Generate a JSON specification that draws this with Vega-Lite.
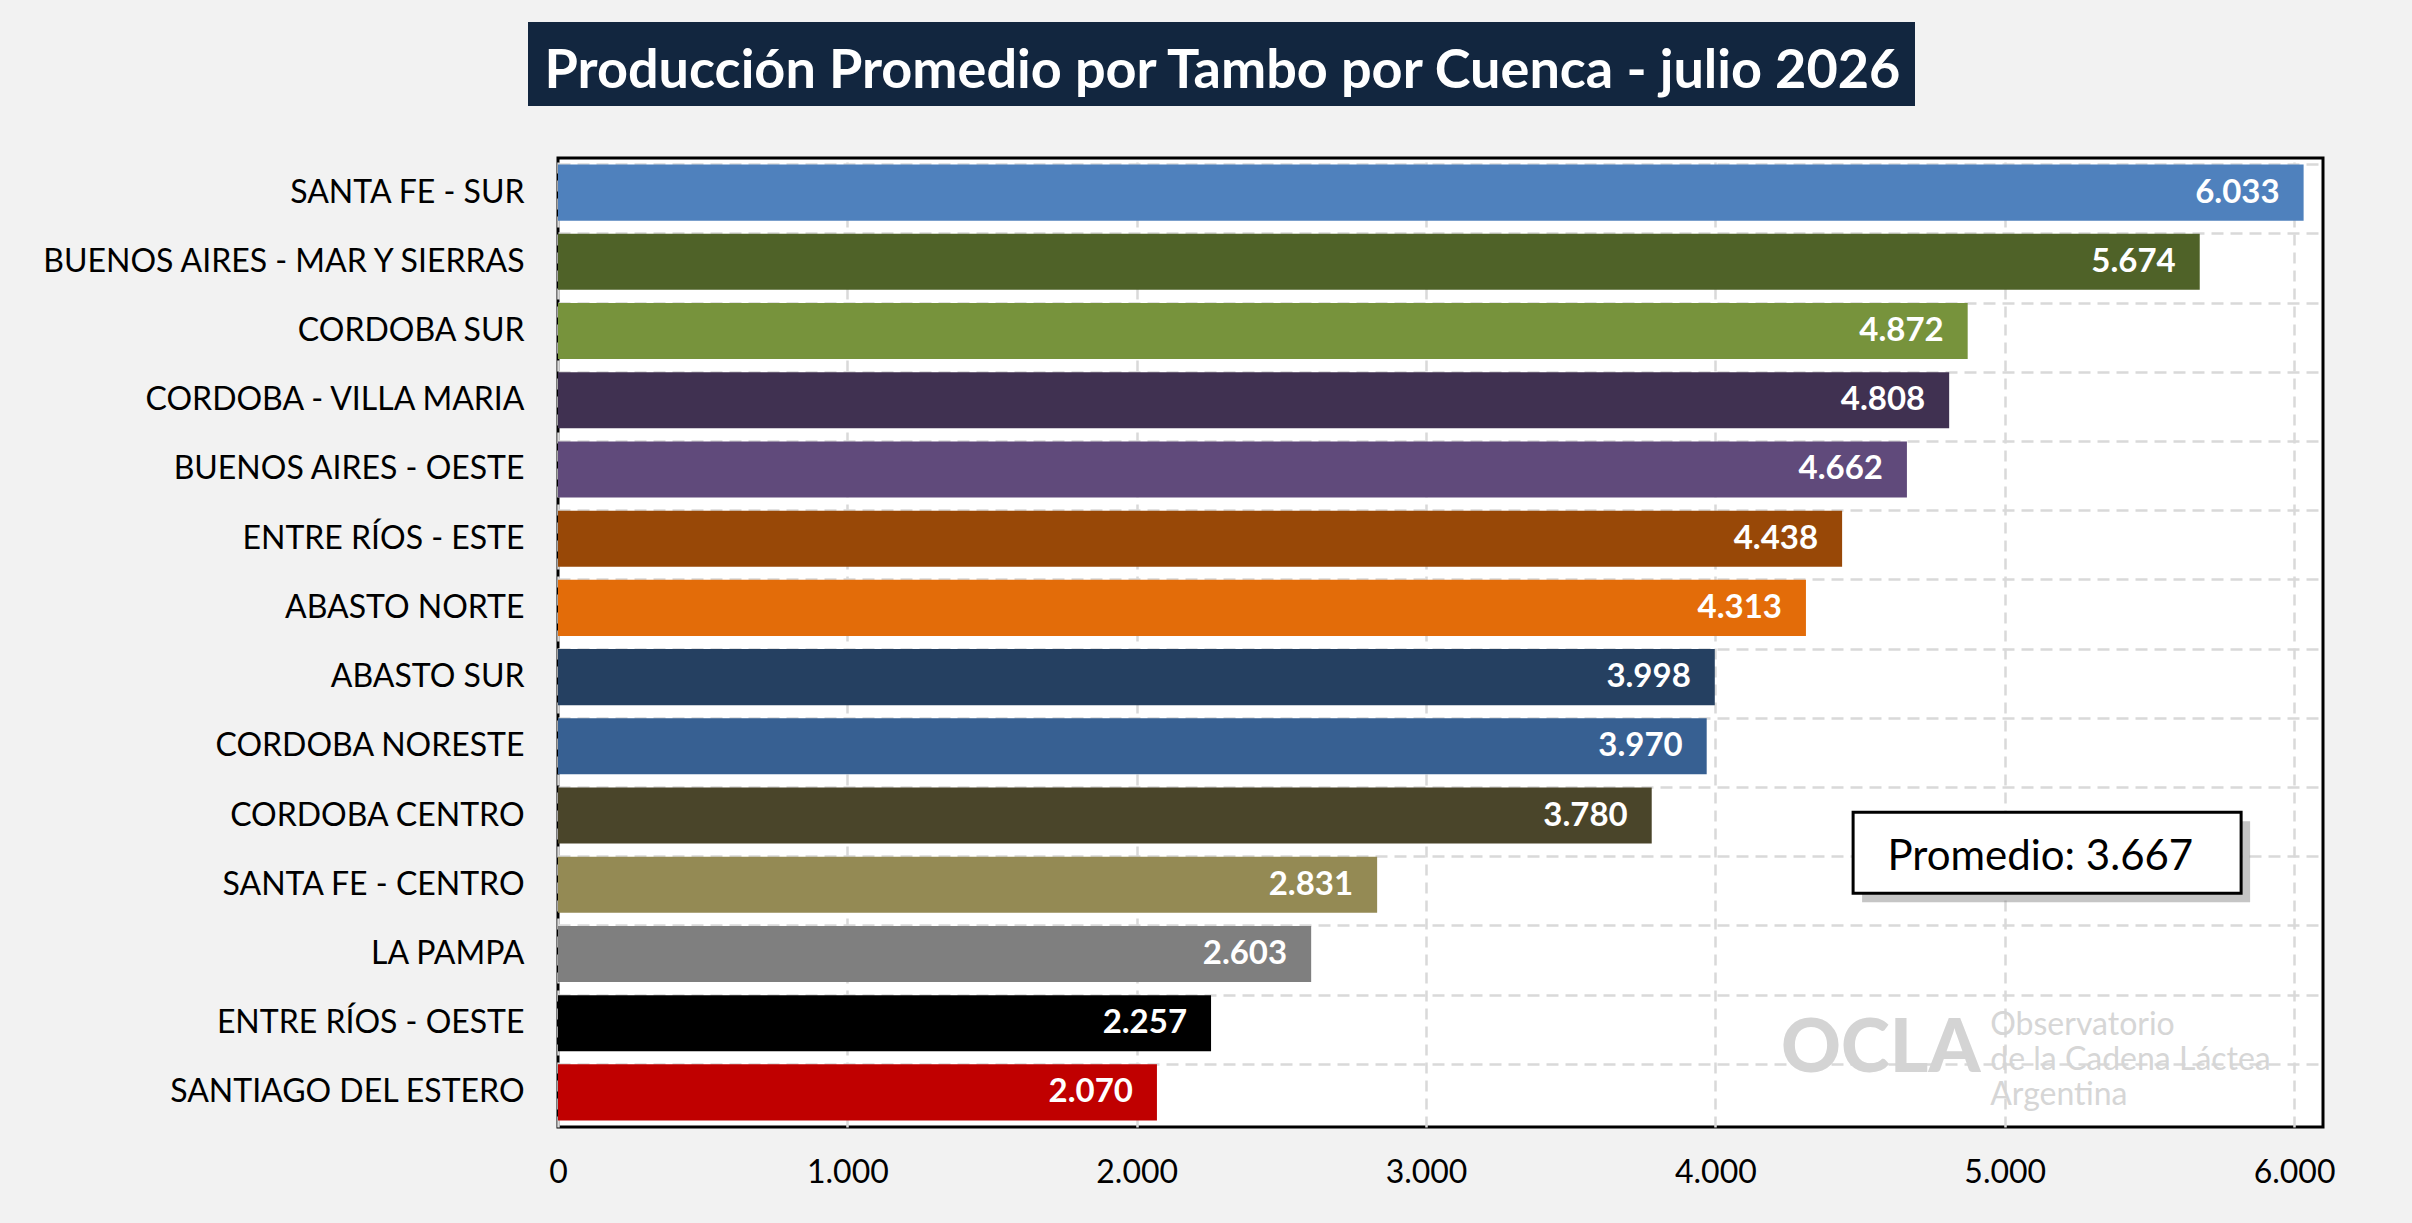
{
  "$schema": "https://vega.github.io/schema/vega-lite/v6.json",
  "background": "#f2f2f2",
  "padding": {"left": 37, "top": 22, "right": 80, "bottom": 40},
  "spacing": 50,
  "config": {
    "font": "Lato",
    "locale": {
      "number": {"decimal": ",", "thousands": ".", "grouping": [3], "currency": ["$", ""]}
    }
  },
  "resolve": {"scale": {"x": "independent", "y": "independent"}},
  "vconcat": [
    {
      "width": 1387,
      "height": 84,
      "view": {"fill": null, "stroke": null},
      "data": {"values": [{"titulo": "Producción Promedio por Tambo por Cuenca - julio 2026", "desde": 0, "hasta": 1}]},
      "layer": [
        {
          "mark": {"type": "rect", "fill": "#12263f", "xOffset": -30, "x2Offset": -30},
          "encoding": {
            "x": {"field": "desde", "type": "quantitative", "scale": {"domain": [0, 1]}, "axis": null},
            "x2": {"field": "hasta"}
          }
        },
        {
          "mark": {
            "type": "text",
            "font": "Lato",
            "fontWeight": "bold",
            "fontSize": 54,
            "color": "white",
            "baseline": "alphabetic",
            "dx": -29,
            "dy": 24
          },
          "encoding": {
            "text": {"field": "titulo", "type": "nominal"}
          }
        }
      ]
    },
    {
      "width": 1765,
      "height": 969,
      "view": {"fill": "white", "stroke": "black", "strokeWidth": 3},
      "data": {
        "values": [
          {"cuenca": "SANTA FE - SUR", "litros": 6033},
          {"cuenca": "BUENOS AIRES - MAR Y SIERRAS", "litros": 5674},
          {"cuenca": "CORDOBA SUR", "litros": 4872},
          {"cuenca": "CORDOBA - VILLA MARIA", "litros": 4808},
          {"cuenca": "BUENOS AIRES - OESTE", "litros": 4662},
          {"cuenca": "ENTRE RÍOS - ESTE", "litros": 4438},
          {"cuenca": "ABASTO NORTE", "litros": 4313},
          {"cuenca": "ABASTO SUR", "litros": 3998},
          {"cuenca": "CORDOBA NORESTE", "litros": 3970},
          {"cuenca": "CORDOBA CENTRO", "litros": 3780},
          {"cuenca": "SANTA FE - CENTRO", "litros": 2831},
          {"cuenca": "LA PAMPA", "litros": 2603},
          {"cuenca": "ENTRE RÍOS - OESTE", "litros": 2257},
          {"cuenca": "SANTIAGO DEL ESTERO", "litros": 2070}
        ]
      },
      "layer": [
        {
          "mark": {"type": "bar"},
          "encoding": {
            "y": {
              "field": "cuenca",
              "type": "nominal",
              "sort": null,
              "scale": {
                "domain": [
                  "SANTA FE - SUR", "BUENOS AIRES - MAR Y SIERRAS", "CORDOBA SUR",
                  "CORDOBA - VILLA MARIA", "BUENOS AIRES - OESTE", "ENTRE RÍOS - ESTE",
                  "ABASTO NORTE", "ABASTO SUR", "CORDOBA NORESTE", "CORDOBA CENTRO",
                  "SANTA FE - CENTRO", "LA PAMPA", "ENTRE RÍOS - OESTE", "SANTIAGO DEL ESTERO"
                ],
                "paddingInner": 0.19,
                "paddingOuter": 0.095
              },
              "axis": {
                "title": null,
                "labelFont": "Lato",
                "labelFontSize": 32,
                "labelLimit": 0,
                "labelColor": "black",
                "labelPadding": 34,
                "ticks": false,
                "domain": false,
                "grid": true,
                "bandPosition": 0,
                "gridColor": "#d9d9d9",
                "gridWidth": 2.5,
                "gridDash": [12, 7]
              }
            },
            "x": {
              "field": "litros",
              "type": "quantitative",
              "scale": {"domain": [0, 6100], "nice": false},
              "axis": {
                "title": null,
                "values": [0, 1000, 2000, 3000, 4000, 5000, 6000],
                "format": ",d",
                "labelFont": "Lato",
                "labelFontSize": 32,
                "labelColor": "black",
                "labelPadding": 30,
                "labelFlush": false,
                "ticks": false,
                "domain": false,
                "gridColor": "#d9d9d9",
                "gridWidth": 2.5,
                "gridDash": [11, 7]
              }
            },
            "color": {
              "field": "cuenca",
              "type": "nominal",
              "legend": null,
              "scale": {
                "domain": [
                  "SANTA FE - SUR", "BUENOS AIRES - MAR Y SIERRAS", "CORDOBA SUR",
                  "CORDOBA - VILLA MARIA", "BUENOS AIRES - OESTE", "ENTRE RÍOS - ESTE",
                  "ABASTO NORTE", "ABASTO SUR", "CORDOBA NORESTE", "CORDOBA CENTRO",
                  "SANTA FE - CENTRO", "LA PAMPA", "ENTRE RÍOS - OESTE", "SANTIAGO DEL ESTERO"
                ],
                "range": [
                  "#4f81bd", "#4f6228", "#77933c", "#403151", "#604a7b", "#984807",
                  "#e36c09", "#254061", "#376092", "#4a452a", "#948a54", "#7f7f7f",
                  "#000000", "#c00000"
                ]
              }
            }
          }
        },
        {
          "mark": {
            "type": "text",
            "font": "Lato",
            "fontWeight": "bold",
            "fontSize": 33,
            "color": "white",
            "align": "right",
            "baseline": "middle",
            "dx": -24
          },
          "encoding": {
            "y": {"field": "cuenca", "type": "nominal", "sort": null},
            "x": {"field": "litros", "type": "quantitative"},
            "text": {"field": "litros", "type": "quantitative", "format": ",d"}
          }
        },
        {
          "data": {"values": [{"marca": "OCLA"}]},
          "mark": {
            "type": "text",
            "font": "Lato",
            "fontWeight": 900,
            "fontSize": 74,
            "color": "#d4d4d4",
            "align": "left",
            "baseline": "alphabetic",
            "dy": 49
          },
          "encoding": {
            "y": {"datum": "ENTRE RÍOS - OESTE"},
            "x": {"datum": 4227},
            "text": {"field": "marca", "type": "nominal"}
          }
        },
        {
          "data": {"values": [{"marca": ["Observatorio", "de la Cadena Láctea", "Argentina"]}]},
          "mark": {
            "type": "text",
            "font": "Lato",
            "fontSize": 32,
            "lineHeight": 35,
            "color": "#d6d6d6",
            "align": "left",
            "baseline": "alphabetic",
            "dy": 12
          },
          "encoding": {
            "y": {"datum": "ENTRE RÍOS - OESTE"},
            "x": {"datum": 4950},
            "text": {"field": "marca"}
          }
        },
        {
          "data": {"values": [{"desde": 4476, "hasta": 5817}]},
          "mark": {
            "type": "rect",
            "height": 81,
            "fill": "#7f7f7f",
            "opacity": 0.45,
            "xOffset": 9,
            "x2Offset": 9,
            "yOffset": -23
          },
          "encoding": {
            "y": {"datum": "SANTA FE - CENTRO"},
            "x": {"field": "desde", "type": "quantitative"},
            "x2": {"field": "hasta"}
          }
        },
        {
          "data": {"values": [{"desde": 4476, "hasta": 5817}]},
          "mark": {
            "type": "rect",
            "height": 81,
            "fill": "white",
            "stroke": "black",
            "strokeWidth": 3,
            "yOffset": -32
          },
          "encoding": {
            "y": {"datum": "SANTA FE - CENTRO"},
            "x": {"field": "desde", "type": "quantitative"},
            "x2": {"field": "hasta"}
          }
        },
        {
          "data": {"values": [{"nota": "Promedio: 3.667", "pos": 5123}]},
          "mark": {
            "type": "text",
            "font": "Lato",
            "fontSize": 42,
            "color": "black",
            "align": "center",
            "baseline": "alphabetic",
            "dy": -15
          },
          "encoding": {
            "y": {"datum": "SANTA FE - CENTRO"},
            "x": {"field": "pos", "type": "quantitative"},
            "text": {"field": "nota", "type": "nominal"}
          }
        }
      ]
    }
  ]
}
